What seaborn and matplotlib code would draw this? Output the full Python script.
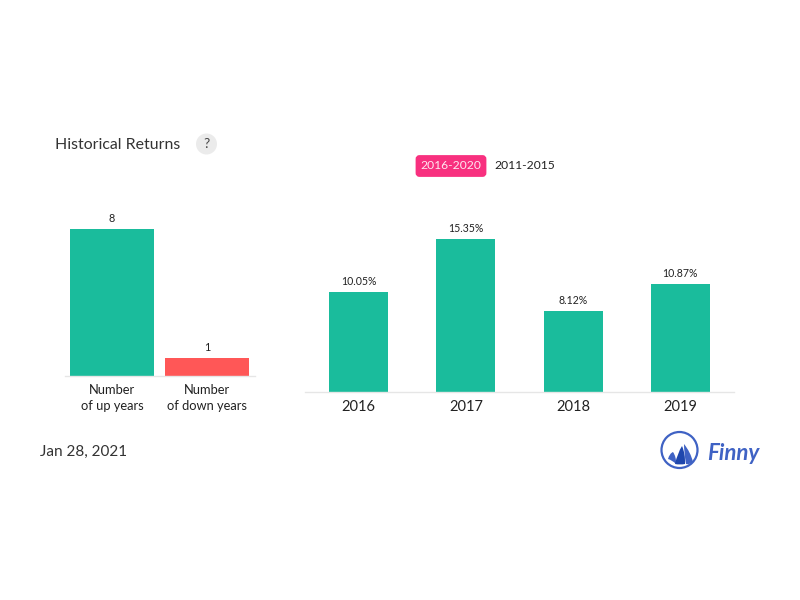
import matplotlib.pyplot as plt
import seaborn as sns
from matplotlib.patches import Circle, FancyBboxPatch, PathPatch
from matplotlib.path import Path

# --- data ---
COUNT_LABELS = ["Number\nof up years", "Number\nof down years"]
COUNT_VALUES = [8, 1]
COUNT_COLORS = ["#1abc9c", "#ff5757"]

YEARS = ["2016", "2017", "2018", "2019"]
RETURNS = [10.05, 15.35, 8.12, 10.87]
RETURN_COLOR = "#1abc9c"

W, H = 800, 600
TEXT = "#222222"

sns.set_theme(style="white")
plt.rcParams["font.family"] = ["Lato", "Liberation Sans", "DejaVu Sans"]


def px_axes(fig, left, top, right, bottom):
    # axes from pixel box (y counted from the top of the image)
    return fig.add_axes([left / W, 1 - bottom / H, (right - left) / W, (bottom - top) / H])


def clean_axis(ax, n, ymax, label_size):
    ax.set_xlim(-0.5, n - 0.5)
    ax.set_ylim(0, ymax)
    ax.set_xlabel("")
    ax.set_ylabel("")
    ax.set_yticks([])
    ax.tick_params(axis="x", length=0, labelsize=label_size, labelcolor=TEXT)
    sns.despine(ax=ax, left=True)
    ax.spines["bottom"].set_color("#e6e6e6")
    ax.spines["bottom"].set_linewidth(1.0)
    ax.patch.set_alpha(0)


def sail(ax, tip, base_l, base_r, color):
    # curved sail shape for the logo
    verts = [base_l, ((base_l[0] + tip[0]) / 2 - 1, (base_l[1] + tip[1]) / 2 - 2), tip,
             ((base_r[0] + tip[0]) / 2 + 2, (base_r[1] + tip[1]) / 2 - 1), base_r,
             ((base_l[0] + base_r[0]) / 2, base_l[1] + 1), base_l]
    codes = [Path.MOVETO, Path.CURVE3, Path.CURVE3, Path.CURVE3, Path.CURVE3, Path.CURVE3, Path.CURVE3]
    ax.add_patch(PathPatch(Path(verts, codes), fc=color, ec="none"))


fig = plt.figure(figsize=(W / 100, H / 100), dpi=100, facecolor="white")

# left chart
ax1 = px_axes(fig, 64.5, 200, 254.5, 376)
sns.barplot(x=COUNT_LABELS, y=COUNT_VALUES, hue=COUNT_LABELS, palette=COUNT_COLORS,
            width=0.885, saturation=1, legend=False, linewidth=0, ax=ax1)
clean_axis(ax1, len(COUNT_VALUES), 176 / 18.4, 9.3)
ax1.tick_params(axis="x", pad=6)
for lab in ax1.get_xticklabels():
    lab.set_linespacing(1.32)
for c in ax1.containers:
    ax1.bar_label(c, fmt="%d", padding=3.5, fontsize=7.8, color=TEXT)

# right chart
ax2 = px_axes(fig, 305, 200, 734, 392)
sns.barplot(x=YEARS, y=RETURNS, color=RETURN_COLOR, width=0.55, saturation=1, linewidth=0, ax=ax2)
clean_axis(ax2, len(YEARS), 192 / 9.97, 10.5)
ax2.tick_params(axis="x", pad=5.5)
for c in ax2.containers:
    ax2.bar_label(c, fmt="%.2f%%", padding=3.5, fontsize=7.6, color=TEXT)

# header
fig.text(55 / W, 1 - 145 / H, "Historical Returns", fontsize=11.4, color="#333333", va="center")
overlay = fig.add_axes([0, 0, 1, 1], zorder=5)
overlay.set_xlim(0, W)
overlay.set_ylim(H, 0)
overlay.axis("off")
overlay.add_patch(Circle((206.5, 144), 10.5, fc="#ebebeb", ec="none"))
overlay.text(206.5, 144.5, "?", fontsize=10, color="#444444", ha="center", va="center")

# period toggle
overlay.add_patch(FancyBboxPatch((417, 156.5), 68, 19, boxstyle="round,pad=0,rounding_size=2.5",
                                 fc="#f8307f", ec="#f8307f", lw=2))
overlay.text(451, 165.5, "2016-2020", fontsize=8.7, color="#ffe6f0", ha="center", va="center")
overlay.text(525, 165.5, "2011-2015", fontsize=8.7, color=TEXT, ha="center", va="center")

# date
overlay.text(40, 451.5, "Jan 28, 2021", fontsize=11, color="#333333", va="center")

# logo
LOGO = "#3f62c4"
overlay.add_patch(Circle((679.5, 450), 18, fc="none", ec=LOGO, lw=1.6))
sail(overlay, (673, 452), (668, 459), (676, 464), "#3f62c4")
sail(overlay, (682, 446), (675, 464), (685, 464), "#1f47ad")
sail(overlay, (684, 444), (686, 464), (693, 462), "#3f62c4")
overlay.text(733, 453, "Finny", fontsize=16, color=LOGO, fontweight="bold", style="italic",
             ha="center", va="center", family=["Lato", "DejaVu Sans"])

fig.savefig("out.png", dpi=100)
